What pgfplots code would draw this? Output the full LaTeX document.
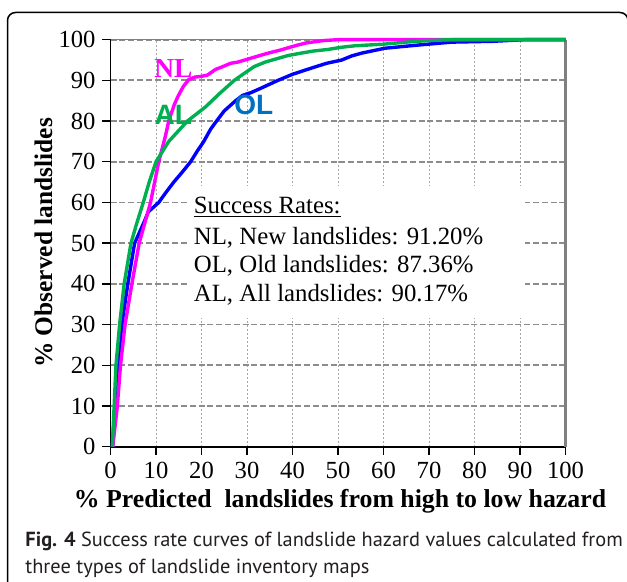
\documentclass[border=0pt]{standalone}
\usepackage{pgfplots}
\pgfplotsset{compat=1.18}
\usepackage{fontspec}
\setmainfont{Liberation Serif}
\newfontfamily\arialfont{Liberation Sans}
\newfontfamily\capfont{PT Sans}
\definecolor{nlc}{RGB}{255,0,255}
\definecolor{alc}{RGB}{0,176,80}
\definecolor{olc}{RGB}{0,0,255}
\definecolor{ollab}{RGB}{0,112,192}
\definecolor{capc}{RGB}{35,31,32}
\begin{document}
\begin{tikzpicture}
\useasboundingbox (0,0) rectangle (313.5pt,291pt);
\begin{axis}[
  at={(55.25pt,67.65pt)}, anchor=south west,
  scale only axis, width=227.5pt, height=203.5pt,
  xmin=0, xmax=100, ymin=0, ymax=100,
  xtick={0,10,...,100}, ytick={0,10,...,100},
  axis x line*=bottom, axis y line*=left,
  axis line style={black, line width=0.9pt},
  tick align=outside, major tick length=4pt,
  tick style={black, line width=0.7pt},
  ticklabel style={font=\fontsize{12.3}{12}\selectfont},
  /pgf/number format/assume math mode=true,
  grid=major,
  x grid style={gray!70, line width=0.5pt, dash pattern=on 1pt off 1pt},
  y grid style={gray!90, line width=0.9pt, dash pattern=on 3pt off 1.4pt},
  clip=false,
]
\draw[gray, line width=0.8pt] (axis cs:0,100) -- (axis cs:100,100);
\draw[gray, line width=1.2pt] (axis cs:100,100) -- (axis cs:100,0);
\fill[white] (axis cs:17,31.7) rectangle (axis cs:91,64.1);
\addplot[olc, line width=1.7pt, no marks] coordinates {
(0.4,0) (0.7,5) (1.0,10) (1.6,20) (2.5,30) (3.8,40) (5.3,50) (6.5,53) (7.5,55.5) (8.3,57.7) (10.6,60) (12.2,62.5) (13.9,65) (15.8,67.5) (17.6,70) (19.0,72.5) (20.5,75) (22.0,78) (23.3,80) (25,82.5) (27.5,85) (29,86.3) (30.9,87) (33.5,88.3) (36.8,90) (40,91.5) (44.1,93) (47.5,94.2) (50.8,95) (53,96) (55.2,96.7) (60.3,97.9) (67.8,98.7) (75,99.4) (84,99.6) (91,100) (100,100)};
\addplot[nlc, line width=1.7pt, no marks] coordinates {
(0.5,0) (1.0,5) (1.5,10) (2.2,20) (3.2,30) (4.7,40) (6.3,50) (8.8,60) (10.6,70) (12.0,76) (12.8,80) (14.0,84) (14.8,86) (16.0,88.5) (17.2,90.2) (18.5,90.8) (20.0,91) (21.3,91.3) (22.2,92) (23.1,92.7) (24.5,93.3) (26.4,94.2) (28,94.5) (30.1,95.2) (33.1,96.2) (35,96.8) (37.5,97.5) (39,98) (41.2,98.7) (43,99.2) (44.9,99.5) (47,99.8) (50,100) (100,100)};
\addplot[alc, line width=1.7pt, no marks] coordinates {
(0.4,0) (0.6,5) (0.8,10) (1.2,20) (2.0,30) (3.0,40) (4.5,50) (5.8,55) (7.2,60) (8.5,65) (10.0,70) (12.8,75) (16.9,80) (20.9,83.5) (24,86.8) (27.2,90) (29.5,91.8) (31.6,93.4) (34,94.5) (36.8,95.4) (39,96.1) (41.9,96.7) (44.5,97.2) (47.8,97.6) (50.5,98.1) (53.7,98.5) (60,98.9) (65,99.4) (70,99.8) (75,100) (100,100)};
\node[nlc, font=\fontsize{13.7}{14}\selectfont\bfseries, inner sep=0pt] at (axis cs:13.8,92.8) {NL};
\node[alc, font=\fontsize{14}{14}\selectfont\arialfont\bfseries, inner sep=0pt] at (axis cs:13.8,81.5) {AL};
\node[ollab, font=\fontsize{14}{14}\selectfont\arialfont\bfseries, inner sep=0pt] at (axis cs:31.5,84) {OL};
\begin{scope}[every node/.style={anchor=base west, inner sep=0pt, font=\fontsize{12.4}{12}\selectfont}]
\node at (axis cs:18.25,57.4) {\underline{Success Rates:}};
\node at (axis cs:18.25,49.8) {NL, New landslides: 91.20\%};
\node at (axis cs:18.25,42.7) {OL, Old landslides: 87.36\%};
\node at (axis cs:18.25,35.6) {AL, All landslides: 90.17\%};
\end{scope}
\end{axis}
\node[rotate=90, anchor=base, inner sep=0pt, font=\fontsize{12.7}{13}\selectfont\bfseries] at (26pt,169.5pt) {\% Observed landslides};
\node[anchor=base, inner sep=0pt, font=\fontsize{12.9}{13}\selectfont\bfseries] at (170pt,37pt) {\% Predicted\ \ landslides from high to low hazard};
\node[anchor=base west, inner sep=0pt, text=capc, font=\fontsize{10.2}{12}\selectfont\capfont] at (12.5pt,17.5pt) {\textbf{Fig. 4} Success rate curves of landslide hazard values calculated from};
\node[anchor=base west, inner sep=0pt, text=capc, font=\fontsize{10.2}{12}\selectfont\capfont] at (12.5pt,4pt) {three types of landslide inventory maps};
\draw[black, line width=0.75pt, rounded corners=4pt] (3.75pt,-9pt) rectangle (314pt,284.75pt);
\end{tikzpicture}
\end{document}
